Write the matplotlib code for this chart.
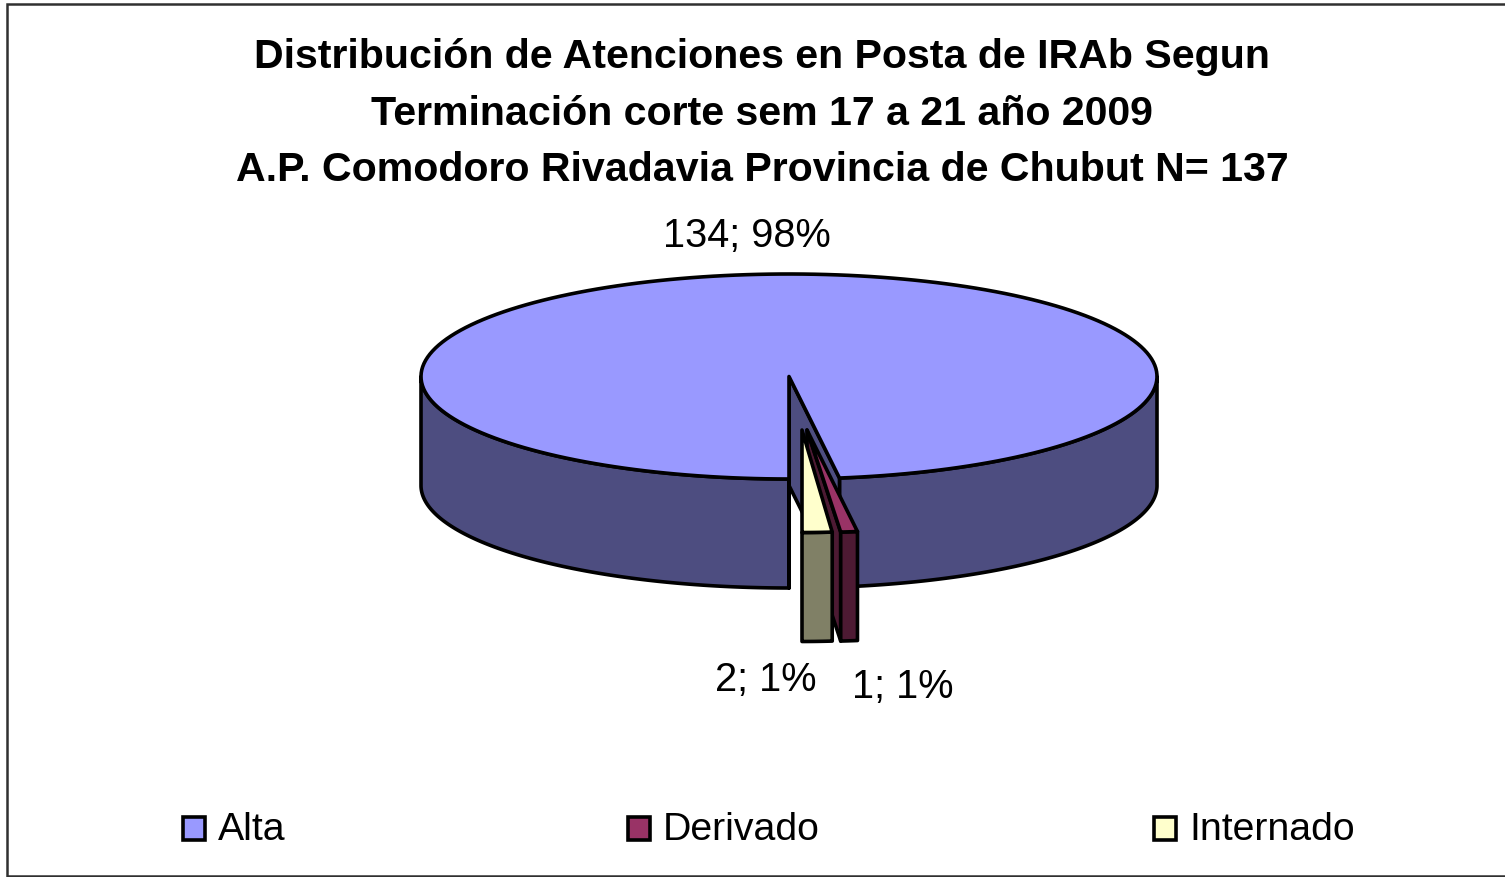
import numpy as np
import matplotlib
matplotlib.use("Agg")
import matplotlib.pyplot as plt
from matplotlib.patches import Polygon, Rectangle

categories = ["Alta", "Derivado", "Internado"]
values = [134, 1, 2]
title_lines = ["Distribución de Atenciones en Posta de IRAb Segun",
               "Terminación corte sem 17 a 21 año 2009",
               "A.P. Comodoro Rivadavia Provincia de Chubut N= 137"]

top_colors = ["#9999FF", "#993366", "#FFFFCC"]
side_colors = ["#4D4D80", "#4D1A33", "#808066"]

plt.rcParams["font.family"] = ["Liberation Sans", "DejaVu Sans"]
LW = 2.6

fig = plt.figure(figsize=(15.05, 8.78), dpi=100)
ax = fig.add_axes([0, 0, 1, 1])
ax.set_xlim(0, 1505)
ax.set_ylim(878, 0)
ax.axis("off")

# chart frame
ax.add_patch(Rectangle((7, 4.5), 1520, 873, fc="white", ec="#303030", lw=1.8))

# pie geometry, angles are clockwise from 12 o'clock
RX, RY, DEPTH = 368, 102.5, 109
total = sum(values)
sweeps = [v / total * 360 for v in values]
starts = [180, 180 + sweeps[0], 180 + sweeps[0] + sweeps[1]]


def rim(cx, cy, a0, a1, rx=RX, n=200):
    t = np.radians(np.linspace(a0, a1, n))
    return np.column_stack([cx + rx * np.sin(t), cy - RY * np.cos(t)])


def poly(pts, color):
    ax.add_patch(Polygon(pts, closed=True, fc=color, ec="black", lw=LW, joinstyle="round"))


def side(cx, cy, a0, a1, color, rx=RX):
    arc = rim(cx, cy, a0, a1, rx)
    poly(np.vstack([arc, arc[::-1] + [0, DEPTH]]), color)


def wall(cx, cy, a, color, rx=RX):
    e = rim(cx, cy, a, a, rx, 1)[0]
    poly([(cx, cy), e, e + [0, DEPTH], (cx, cy + DEPTH)], color)


# big slice
cx, cy = 789, 377.5
a_end = starts[0] + sweeps[0] - 360
side(cx, cy, 90, a_end, side_colors[0])
wall(cx, cy, a_end, side_colors[0])
side(cx, cy, 180, 270, side_colors[0])
wall(cx, cy, 180, side_colors[0])
poly(np.vstack([[(cx, cy)], rim(cx, cy, 180, 180 + sweeps[0])]), top_colors[0])

# exploded slices
dx, dy = 807, 431
a0 = starts[1] - 360
a1 = a0 + sweeps[1]
wall(dx, dy, a1, side_colors[1])
side(dx, dy, a0, a1, side_colors[1])
poly(np.vstack([[(dx, dy)], rim(dx, dy, a0, a1)]), top_colors[1])

ix, iy = 802, 431
rx_i = 330
a0 = starts[2] - 360
a1 = a0 + sweeps[2]
side(ix, iy, a0, a1, side_colors[2], rx_i)
poly(np.vstack([[(ix, iy)], rim(ix, iy, a0, a1, rx_i)]), top_colors[2])

# title
for line, y in zip(title_lines, [57, 114, 170]):
    ax.text(762, y, line, ha="center", va="center", fontsize=29.6, fontweight="bold", color="black")

# data labels
label_pos = [(747, 236), (903, 687), (766, 680)]
for v, pos in zip(values, label_pos):
    ax.text(pos[0], pos[1], f"{v}; {round(v / total * 100)}%", ha="center", va="center",
            fontsize=28.6, color="black")

# legend
legend_x = [183, 628, 1154]
for name, c, x in zip(categories, top_colors, legend_x):
    ax.add_patch(Rectangle((x, 818), 22, 23, fc=c, ec="black", lw=LW))
    ax.text(x + 35, 840, name, ha="left", va="baseline", fontsize=28.3, color="black")

fig.savefig("out.png", dpi=100)
